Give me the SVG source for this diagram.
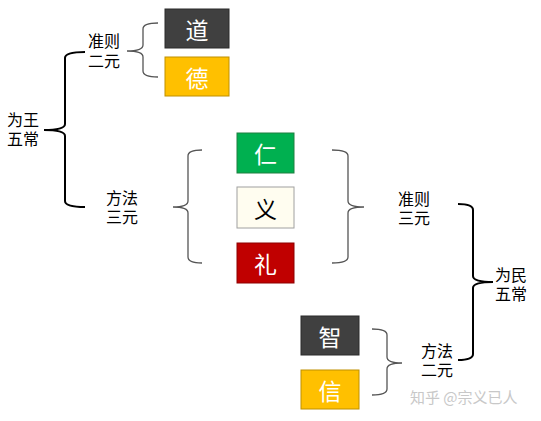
<svg xmlns="http://www.w3.org/2000/svg" width="541" height="421" viewBox="0 0 541 421">
<style>
.lbl{font-family:"Noto Sans CJK SC","Noto Sans",sans-serif;font-size:16px;fill:#000}
.bt{font-family:"Noto Sans CJK SC","Noto Sans",sans-serif;font-size:23px;text-anchor:middle;dominant-baseline:central}
.w{fill:#fff}
.bk{fill:#000}
.br{fill:none;stroke:#555;stroke-width:1.3}
.bb{fill:none;stroke:#000;stroke-width:2}
.wm{font-family:"Noto Sans CJK SC","Noto Sans",sans-serif;font-size:15px;fill:#c8c8c8}
</style>
<rect width="541" height="421" fill="#fff"/>
<g id="connectors">
<path class="bb" d="M85 52 Q65 52 65 58 L65 124 Q65 130 44 130 Q65 130 65 136 L65 201 Q65 207 85 207"/>
<path class="br" d="M158 23 Q143 23 143 29 L143 45 Q143 51 127 51 Q143 51 143 57 L143 71 Q143 77 158 77"/>
<path class="br" d="M202 150 Q188 150 188 156 L188 201 Q188 207 173 207 Q188 207 188 213 L188 257 Q188 263 202 263"/>
<path class="br" d="M332 150 Q348 150 348 156 L348 201 Q348 207 364 207 Q348 207 348 213 L348 257 Q348 263 332 263"/>
<path class="bb" d="M458 204 Q473 204 473 210 L473 276 Q473 282 493 282 Q473 282 473 288 L473 354 Q473 360 458 360"/>
<path class="br" d="M372 329 Q387 329 387 335 L387 357 Q387 363 402 363 Q387 363 387 369 L387 389 Q387 395 372 395"/>
</g>
<g id="node-weiwang"><text class="lbl" x="7" y="126">为王<tspan x="7" dy="19">五常</tspan></text></g>
<g id="node-zhunze2"><text class="lbl" x="88" y="47">准则<tspan x="88" dy="20">二元</tspan></text></g>
<g id="node-fangfa3"><text class="lbl" x="106" y="204">方法<tspan x="106" dy="19">三元</tspan></text></g>
<g id="node-zhunze3"><text class="lbl" x="398" y="205">准则<tspan x="398" dy="19">三元</tspan></text></g>
<g id="node-weimin"><text class="lbl" x="495" y="281">为民<tspan x="495" dy="19">五常</tspan></text></g>
<g id="node-fangfa2"><text class="lbl" x="421" y="357">方法<tspan x="421" dy="19">二元</tspan></text></g>
<g id="node-dao"><rect x="165" y="9" width="64" height="39" fill="#404040" stroke="#2a2a2a"/><text class="bt w" x="197" y="29">道</text></g>
<g id="node-de"><rect x="165" y="57" width="64" height="39" fill="#FFC000" stroke="#BF9000"/><text class="bt w" x="197" y="77">德</text></g>
<g id="node-ren"><rect x="237" y="133" width="57" height="40" fill="#00B050" stroke="#1E8040"/><text class="bt w" x="265.5" y="153">仁</text></g>
<g id="node-yi"><rect x="237" y="187" width="57" height="41" fill="#FFFDF0" stroke="#A0A0A0"/><text class="bt bk" x="265.5" y="207.5">义</text></g>
<g id="node-li"><rect x="237" y="243" width="57" height="40" fill="#C00000" stroke="#8E0000"/><text class="bt w" x="265.5" y="263">礼</text></g>
<g id="node-zhi"><rect x="301" y="316" width="58" height="39" fill="#404040" stroke="#2a2a2a"/><text class="bt w" x="330" y="335.5">智</text></g>
<g id="node-xin"><rect x="301" y="370" width="58" height="39" fill="#FFC000" stroke="#BF9000"/><text class="bt w" x="330" y="389.5">信</text></g>
<text class="wm" x="410" y="403">知乎 @宗义已人</text>
</svg>
